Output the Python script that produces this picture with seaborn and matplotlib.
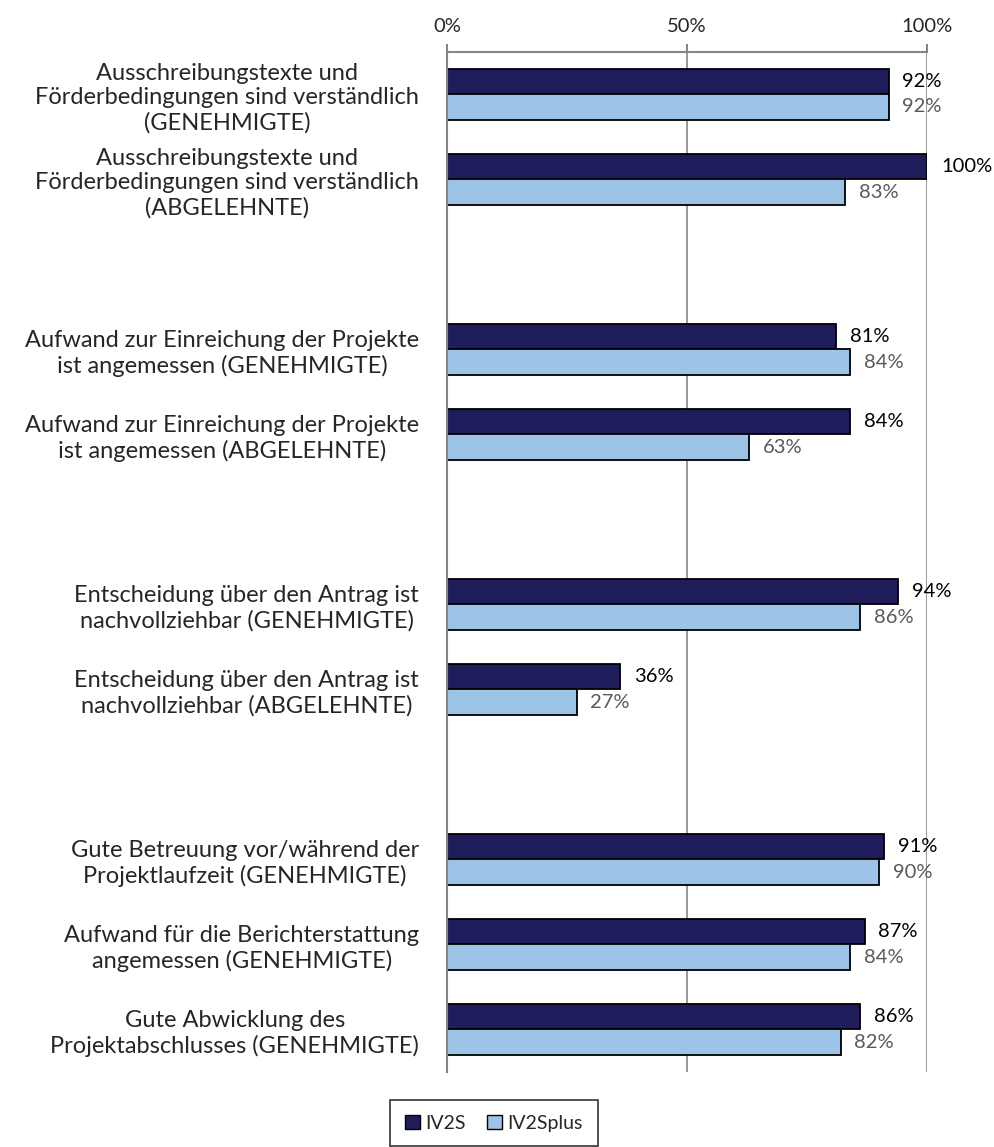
import numpy as np
import pandas as pd
import seaborn as sns
import matplotlib.pyplot as plt
from matplotlib.patches import Patch

# Kategorien (leere Einträge = Lücken zwischen den Blöcken)
kategorien = [
    "Ausschreibungstexte und\nFörderbedingungen sind verständlich\n(GENEHMIGTE)",
    "Ausschreibungstexte und\nFörderbedingungen sind verständlich\n(ABGELEHNTE)",
    " ",
    "Aufwand zur Einreichung der Projekte\nist angemessen (GENEHMIGTE)",
    "Aufwand zur Einreichung der Projekte\nist angemessen (ABGELEHNTE)",
    "  ",
    "Entscheidung über den Antrag ist\nnachvollziehbar (GENEHMIGTE)",
    "Entscheidung über den Antrag ist\nnachvollziehbar (ABGELEHNTE)",
    "   ",
    "Gute Betreuung vor/während der\nProjektlaufzeit (GENEHMIGTE)",
    "Aufwand für die Berichterstattung\nangemessen (GENEHMIGTE)",
    "Gute Abwicklung des\nProjektabschlusses (GENEHMIGTE)",
]
serien = ["IV2S", "IV2Splus"]
iv2s = [92, 100, None, 81, 84, None, 94, 36, None, 91, 87, 86]
iv2splus = [92, 83, None, 84, 63, None, 86, 27, None, 90, 84, 82]
farben = ["#1f1c5c", "#9dc3e6"]

rows = []
for k, a, b in zip(kategorien, iv2s, iv2splus):
    if a is None:
        continue
    rows.append((k, "IV2S", a))
    rows.append((k, "IV2Splus", b))
df = pd.DataFrame(rows, columns=["Kategorie", "Serie", "Wert"])

sns.set_style("white")
plt.rcParams["font.family"] = ["Lato", "DejaVu Sans"]

fig = plt.figure(figsize=(9.94, 11.47), dpi=100)
ax = fig.add_axes([0.4497, 0.0654, 0.4829, 0.8893])

sns.barplot(data=df, y="Kategorie", x="Wert", hue="Serie", order=kategorien,
            hue_order=serien, palette=farben, orient="h",
            width=0.59, edgecolor="black", linewidth=1.3, saturation=1,
            legend=False, ax=ax)

for cont, farbe in zip(ax.containers, ["black", "#595959"]):
    ax.bar_label(cont, fmt="{:.0f}%", padding=10, color=farbe, fontsize=14.5)

ax.set_xlim(0, 100)
ax.set_ylim(len(kategorien) - 0.5, -0.5)
ax.set_xlabel("")
ax.set_ylabel("")

# x-Achse oben
ax.xaxis.tick_top()
ax.set_xticks([0, 50, 100], labels=["0%", "50%", "100%"])
ax.tick_params(axis="x", direction="out", length=6, width=1.5, color="#868686",
               labelsize=14.5, pad=6)
ax.grid(axis="x", color="#868686", linewidth=1.2)
ax.set_axisbelow(True)

# y-Achse: Striche zwischen den Kategorien, Beschriftung in der Mitte
ax.set_yticks(np.arange(-0.5, len(kategorien), 1), labels=[""] * (len(kategorien) + 1))
ax.set_yticks(np.arange(len(kategorien)), labels=kategorien, minor=True)
ax.tick_params(axis="y", which="major", direction="out", length=6, width=1.5,
               color="#868686")
ax.tick_params(axis="y", which="minor", length=0, pad=20, labelsize=17)
for lbl in ax.get_yticklabels(minor=True):
    lbl.set_multialignment("center")
    lbl.set_linespacing(1.2)

for s in ["right", "bottom"]:
    ax.spines[s].set_visible(False)
for s in ["left", "top"]:
    ax.spines[s].set_color("#868686")
    ax.spines[s].set_linewidth(1.5)

handles = [Patch(facecolor=f, edgecolor="black", label=s) for f, s in zip(farben, serien)]
leg = fig.legend(handles=handles, loc="upper center", bbox_to_anchor=(0.497, 0.041),
                 ncol=2, fontsize=14, frameon=True, fancybox=False,
                 handlelength=0.75, handleheight=0.75, handletextpad=0.3,
                 columnspacing=1.1, borderpad=0.75, borderaxespad=0)
leg.get_frame().set_edgecolor("black")
leg.get_frame().set_linewidth(1.2)

fig.savefig("out.png", dpi=100)
